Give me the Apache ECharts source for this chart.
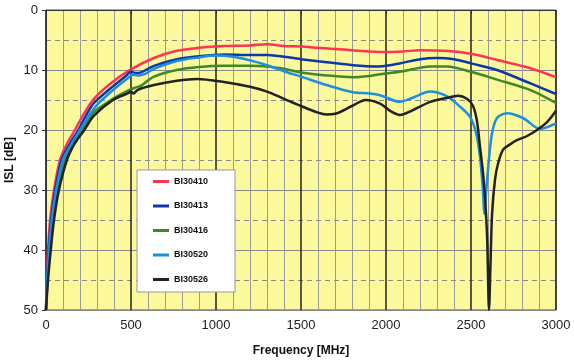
<!DOCTYPE html>
<html>
<head>
<meta charset="utf-8">
<script src="https://cdn.jsdelivr.net/npm/echarts@6/dist/echarts.min.js"></script>
<style>html,body{margin:0;padding:0;background:#fff}#c{width:574px;height:363px}</style>
</head>
<body>
<div id="c"></div>
<script>
// ---- data (frequency in MHz, ISL in dB) ----
var seriesNames = ['BI30410', 'BI30413', 'BI30416', 'BI30520', 'BI30526'];
var xTicks = [0, 500, 1000, 1500, 2000, 2500, 3000];
var yTicks = [0, 10, 20, 30, 40, 50];

var fRed = [0, 4, 12, 24, 47, 82, 125, 170, 225, 282, 382, 500, 635, 770, 900, 1050, 1200, 1300, 1400, 1500, 1600, 1750, 1900, 2000, 2100, 2200, 2350, 2500, 2650, 2850, 3000];
var dRed = [50, 45, 40, 35, 30, 25, 22.2, 20, 17.2, 14.8, 12.2, 9.9, 8.0, 6.8, 6.3, 6.0, 5.9, 5.7, 6.0, 6.1, 6.3, 6.6, 6.9, 7.0, 6.9, 6.7, 6.8, 7.3, 8.3, 9.7, 11.2];

var fBlue = [0, 6, 16, 30, 54, 92, 140, 190, 235, 282, 382, 470, 500, 530, 560, 635, 770, 900, 1050, 1200, 1300, 1500, 1650, 1806, 1950, 2024, 2080, 2200, 2300, 2400, 2500, 2653, 2847, 3000];
var dBlue = [50, 45, 40, 35, 30, 25, 22.3, 20, 17.6, 15.5, 13.0, 11.0, 10.3, 10.5, 10.4, 9.3, 8.2, 7.7, 7.4, 7.5, 7.5, 8.2, 8.7, 9.2, 9.4, 9.2, 8.9, 8.2, 8.0, 8.2, 8.9, 10.0, 12.2, 14.0];

var fGreen = [0, 9, 22, 40, 68, 112, 160, 212, 250, 282, 382, 470, 500, 530, 560, 635, 770, 900, 1047, 1200, 1300, 1400, 1500, 1650, 1806, 1900, 1965, 2024, 2100, 2260, 2360, 2500, 2653, 2847, 3000];
var dGreen = [50, 45, 40, 35, 30, 25, 22.2, 20, 18.3, 17.0, 15.0, 13.6, 13.2, 12.9, 12.6, 11.1, 10.0, 9.5, 9.3, 9.3, 9.4, 9.8, 10.4, 10.9, 11.2, 11.0, 10.7, 10.5, 10.2, 9.4, 9.4, 10.3, 11.6, 13.3, 15.5];

var fLight = [0, 7, 18, 34, 60, 100, 150, 200, 250, 300, 400, 480, 510, 540, 580, 635, 770, 900, 1000, 1100, 1200, 1300, 1400, 1500, 1650, 1806, 1906, 1965, 2082, 2150, 2260, 2360, 2435, 2494, 2530, 2553, 2570, 2578, 2590, 2605, 2624, 2653, 2712, 2806, 2906, 3000];
var dLight = [50, 45, 40, 35, 30, 25, 22.3, 20, 17.7, 15.8, 13.2, 11.4, 10.8, 10.9, 10.7, 9.8, 8.5, 7.9, 7.6, 7.8, 8.4, 9.2, 10.2, 11.1, 12.5, 13.7, 13.9, 14.2, 15.3, 14.7, 13.6, 14.4, 16.1, 17.8, 20.5, 24.5, 30, 34, 30, 25, 20.5, 18, 17.2, 18, 19.8, 18.9];

var fBlack = [0, 12, 28, 47, 76, 123, 170, 225, 282, 394, 480, 500, 515, 540, 635, 770, 888, 1047, 1200, 1300, 1400, 1500, 1600, 1650, 1700, 1800, 1880, 1965, 2024, 2082, 2150, 2260, 2350, 2424, 2476, 2512, 2535, 2553, 2570, 2582, 2595, 2606, 2615, 2624, 2641, 2660, 2688, 2730, 2770, 2830, 2888, 2950, 3000];
var dBlack = [50, 45, 40, 35, 30, 25, 22.2, 20, 17.6, 15.0, 13.9, 13.6, 13.9, 13.3, 12.5, 11.8, 11.5, 12.0, 12.8, 13.6, 14.8, 16.0, 17.1, 17.4, 17.3, 16.0, 15.0, 15.6, 16.8, 17.5, 16.8, 15.3, 14.7, 14.3, 14.8, 16.0, 18.5, 22.8, 27, 31, 38, 50, 42, 34, 28.3, 25.5, 23.3, 22.4, 21.7, 21.0, 20.0, 18.6, 16.8];

var seriesColors = ['#FF3355', '#0A38A8', '#3E8A22', '#1C8FE0', '#222222'];
var seriesF = [fRed, fBlue, fGreen, fLight, fBlack];
var seriesD = [dRed, dBlue, dGreen, dLight, dBlack];

function pairs(f, d) { return f.map(function (v, i) { return [v, d[i]]; }); }

var chart = echarts.init(document.getElementById('c'), null, {renderer: 'canvas'});
var font = 'Liberation Sans, Arial, sans-serif';
chart.setOption({
  animation: false,
  grid: {left: 46, top: 10, right: 18, bottom: 53, outerBoundsMode: 'none', containLabel: false,
    show: true, backgroundColor: '#FCF89C', borderColor: '#555', borderWidth: 1},
  legend: {
    data: seriesNames, orient: 'vertical', left: 137, top: 170,
    backgroundColor: '#fff', borderColor: '#999', borderWidth: 1,
    padding: [7, 27, 8, 16], itemGap: 15.5, itemWidth: 16, itemHeight: 3, icon: 'rect',
    textStyle: {fontFamily: font, fontSize: 9, fontWeight: 'bold', color: '#111', padding: [0, 0, 0, 0]}
  },
  xAxis: {
    type: 'value', min: 0, max: 3000, interval: 500,
    name: 'Frequency [MHz]', nameLocation: 'middle', nameGap: 35, nameMoveOverlap: false,
    nameTextStyle: {fontFamily: font, fontSize: 12, fontWeight: 'bold', color: '#111'},
    axisLine: {lineStyle: {color: '#333'}},
    axisTick: {show: true, length: 4, lineStyle: {color: '#333'}},
    axisLabel: {fontFamily: font, fontSize: 13, color: '#222', margin: 9,
      formatter: function (v) { return xTicks.indexOf(v) >= 0 ? String(v) : ''; }},
    splitLine: {show: true, lineStyle: {color: '#222', width: 1.5}},
    minorTick: {show: false, splitNumber: 5},
    minorSplitLine: {show: true, lineStyle: {color: '#9a9a9a', width: 1}}
  },
  yAxis: {
    type: 'value', min: 0, max: 50, interval: 10, inverse: true,
    name: 'ISL [dB]', nameLocation: 'middle', nameGap: 30, nameRotate: 90, nameMoveOverlap: false,
    nameTextStyle: {fontFamily: font, fontSize: 12, fontWeight: 'bold', color: '#111'},
    axisLine: {show: true, lineStyle: {color: '#333'}},
    axisTick: {show: true, length: 4, lineStyle: {color: '#333'}},
    axisLabel: {fontFamily: font, fontSize: 13, color: '#222', margin: 8,
      formatter: function (v) { return yTicks.indexOf(v) >= 0 ? String(v) : ''; }},
    splitLine: {show: true, lineStyle: {color: '#888', width: 1}},
    minorTick: {show: false, splitNumber: 2},
    minorSplitLine: {show: true, lineStyle: {color: '#888', width: 1, type: [5, 4]}}
  },
  series: seriesNames.map(function (n, i) {
    return {
      name: n, type: 'line', data: pairs(seriesF[i], seriesD[i]),
      smooth: 0.3, symbol: 'none', clip: true,
      lineStyle: {color: seriesColors[i], width: 2.5},
      itemStyle: {color: seriesColors[i]}
    };
  })
});
</script>
</body>
</html>
